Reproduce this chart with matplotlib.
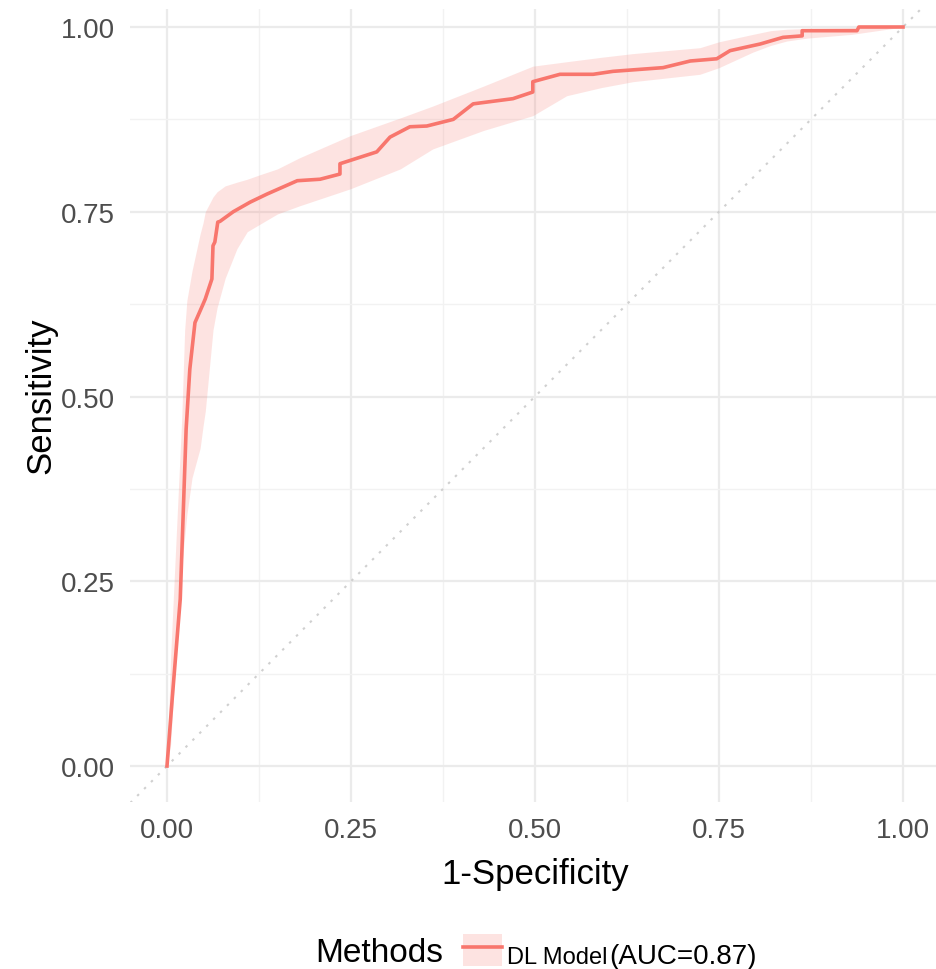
import matplotlib
matplotlib.use("Agg")
import matplotlib.pyplot as plt
import numpy as np
from matplotlib.patches import Patch
from matplotlib.lines import Line2D
from matplotlib.legend_handler import HandlerTuple

plt.rcParams['font.family'] = ['Liberation Sans', 'DejaVu Sans']

# ROC curve (1-Specificity, Sensitivity)
fpr = [0, 0.007, 0.018, 0.026, 0.031, 0.038, 0.049, 0.052, 0.061, 0.0625, 0.065,
       0.069, 0.072, 0.09, 0.113, 0.136, 0.177, 0.208, 0.235, 0.235, 0.285, 0.303,
       0.33, 0.353, 0.389, 0.416, 0.47, 0.497, 0.497, 0.534, 0.579, 0.606, 0.674,
       0.711, 0.747, 0.765, 0.806, 0.837, 0.863, 0.863, 0.9375, 0.94, 1.0]
tpr = [0, 0.09, 0.226, 0.456, 0.537, 0.60, 0.625, 0.632, 0.659, 0.704, 0.709,
       0.736, 0.737, 0.75, 0.763, 0.774, 0.792, 0.794, 0.801, 0.815, 0.831, 0.851,
       0.865, 0.866, 0.875, 0.896, 0.903, 0.912, 0.926, 0.936, 0.936, 0.940, 0.945,
       0.954, 0.957, 0.968, 0.977, 0.986, 0.988, 0.995, 0.995, 1.0, 1.0]

# confidence band for sensitivity
ci_x = [0, 0.005, 0.012, 0.02, 0.024, 0.027, 0.034, 0.045, 0.049, 0.052, 0.0625,
        0.068, 0.079, 0.095, 0.109, 0.126, 0.15, 0.18, 0.249, 0.317, 0.361, 0.43,
        0.497, 0.543, 0.59, 0.633, 0.724, 0.75, 0.796, 0.82, 0.842, 0.87, 0.93, 1.0]
ci_upper = [0, 0.15, 0.30, 0.47, 0.59, 0.63, 0.67, 0.72, 0.735, 0.75, 0.77,
            0.777, 0.785, 0.79, 0.794, 0.80, 0.808, 0.823, 0.853, 0.877, 0.893, 0.92,
            0.947, 0.953, 0.959, 0.964, 0.972, 0.98, 0.99, 0.995, 0.997, 0.998, 0.999, 1.0]
ci_lower = [0, 0.03, 0.15, 0.27, 0.31, 0.34, 0.39, 0.43, 0.46, 0.48, 0.59,
            0.62, 0.66, 0.70, 0.723, 0.733, 0.747, 0.758, 0.781, 0.808, 0.835, 0.86,
            0.88, 0.907, 0.918, 0.926, 0.936, 0.945, 0.966, 0.975, 0.981, 0.985, 0.99, 1.0]

xticks = [0, 0.25, 0.5, 0.75, 1.0]
yticks = [0, 0.25, 0.5, 0.75, 1.0]
tick_labels = ["0.00", "0.25", "0.50", "0.75", "1.00"]
legend_title = "Methods"
legend_name = "DL Model"
legend_auc = "(AUC=0.87)"

RED = "#F8766D"
W, H = 936, 970
fig = plt.figure(figsize=(W / 100, H / 100), dpi=100)
ax = fig.add_axes([130.2 / W, (H - 803) / H, 809.6 / W, 793 / H])

ax.set_xticks(xticks)
ax.set_xticklabels(tick_labels)
ax.set_yticks(yticks)
ax.set_yticklabels(tick_labels)
ax.set_xticks([0.125, 0.375, 0.625, 0.875], minor=True)
ax.set_yticks([0.125, 0.375, 0.625, 0.875], minor=True)
ax.grid(True, which='major', color='#EBEBEB', lw=1.6, zorder=0)
ax.grid(True, which='minor', color='#F2F2F2', lw=1.0, zorder=0)
ax.set_axisbelow(True)
for s in ax.spines.values():
    s.set_visible(False)
ax.tick_params(which='both', length=0)
ax.tick_params(axis='both', labelsize=20, labelcolor='#4D4D4D', pad=11)

ax.plot([-1, 2], [-1, 2], color='#D0D0D0', lw=1.5, ls=(0, (1.2, 3.5)), zorder=1)
ax.fill_between(ci_x, ci_lower, ci_upper, color=RED, alpha=0.2, lw=0, zorder=2)
ax.plot(fpr, tpr, color=RED, lw=2.6, zorder=3)

ax.set_xlim(-0.05, 1.05)
ax.set_ylim(-36 / 739, 1 + 18 / 739)

ax.set_xlabel("1-Specificity", fontsize=25, labelpad=10)
ax.set_ylabel("Sensitivity", fontsize=25)
ax.yaxis.set_label_coords((57 - 130.2) / 809.6, (803 - 396) / 793)

fig.text(315 / W, 1 - 954 / H, legend_title, fontsize=24, va='center', ha='left')
h = (Patch(facecolor=RED, alpha=0.2, edgecolor='none'), Line2D([], [], color=RED, lw=2.6))
leg = fig.legend([h], [''], loc='center left',
                 bbox_to_anchor=(463 / W, 1 - 951 / H), frameon=False,
                 fontsize=20, handlelength=1.4, handleheight=1.37, handletextpad=0,
                 borderpad=0, borderaxespad=0,
                 handler_map={tuple: HandlerTuple(ndivide=1)})
fig.text(507 / W, 1 - 964 / H, legend_name, fontsize=17, va='baseline', ha='left')
fig.text(609 / W, 1 - 964 / H, legend_auc, fontsize=20, va='baseline', ha='left')

fig.savefig("out.png", dpi=100)
